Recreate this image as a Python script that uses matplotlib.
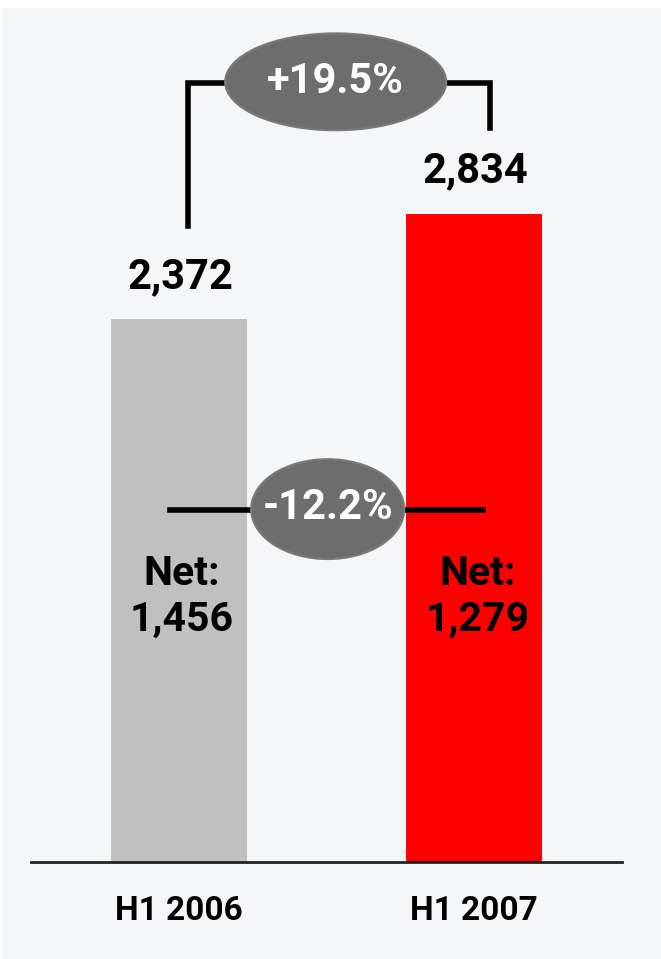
import matplotlib
matplotlib.use('Agg')
import matplotlib.pyplot as plt
from matplotlib.patches import Ellipse, Rectangle

# data
periods = ['H1 2006', 'H1 2007']
gross = [2372, 2834]
net = [1456, 1279]
gross_change = '+19.5%'
net_change = '-12.2%'
bar_colors = ['#c0c0c0', '#ff0000']

plt.rcParams['font.family'] = ['Roboto', 'DejaVu Sans']
plt.rcParams['font.weight'] = 'bold'

fig = plt.figure(figsize=(6.61, 9.59), dpi=100, facecolor='white')
# light grey panel (small white strip at top and left)
fig.patches.append(Rectangle((2 / 661, 0), 1, 951 / 959, transform=fig.transFigure,
                             facecolor='#f5f6f8', edgecolor='none', zorder=-1))

ax = fig.add_axes([31 / 661, 97.5 / 959, 591 / 661, 861.5 / 959])
ax.set_facecolor('none')
x = range(len(periods))
ax.bar(x, gross, width=0.46, color=bar_colors, zorder=2)
ax.set_xlim(-0.5, 1.5)
ax.set_ylim(0, 3770)

for s in ['top', 'right', 'left']:
    ax.spines[s].set_visible(False)
ax.spines['bottom'].set_color('#222222')
ax.spines['bottom'].set_linewidth(2)
ax.set_yticks([])
ax.set_xticks(list(x), periods)
ax.tick_params(axis='x', length=0, pad=24, labelsize=24)

# value labels on top
for i, v in enumerate(gross):
    ax.text(i + 0.005, v + 138, f'{v:,}', ha='center', va='baseline', fontsize=30)
# net labels inside bars
for i, v in enumerate(net):
    ax.text(i + 0.01, 1212, 'Net:', ha='center', va='baseline', fontsize=29.5)
    ax.text(i + 0.01, 1010, f'{v:,}', ha='center', va='baseline', fontsize=29.5)

# bracket for gross change
top = 3408
ax.plot([0.03, 0.03, 1.052, 1.052], [gross[0] + 408, top, top, gross[1] + 375],
        color='black', lw=4, solid_joinstyle='miter', zorder=3)
ax.add_patch(Ellipse((0.531, 3412), 0.748, 424, facecolor='#6d6d6d',
                     edgecolor='#7a7a7a', lw=1.5, zorder=4))
ax.text(0.531, 3412, gross_change, ha='center', va='center', color='white',
        fontsize=30, zorder=5)

# line for net change
ax.plot([-0.03, 1.029], [1538, 1538], color='black', lw=4, zorder=3)
ax.add_patch(Ellipse((0.504, 1542), 0.518, 437, facecolor='#6d6d6d',
                     edgecolor='#7a7a7a', lw=1.5, zorder=4))
ax.text(0.504, 1550, net_change, ha='center', va='center', color='white',
        fontsize=30, zorder=5)

fig.savefig('out.png', dpi=100, facecolor=fig.get_facecolor())
